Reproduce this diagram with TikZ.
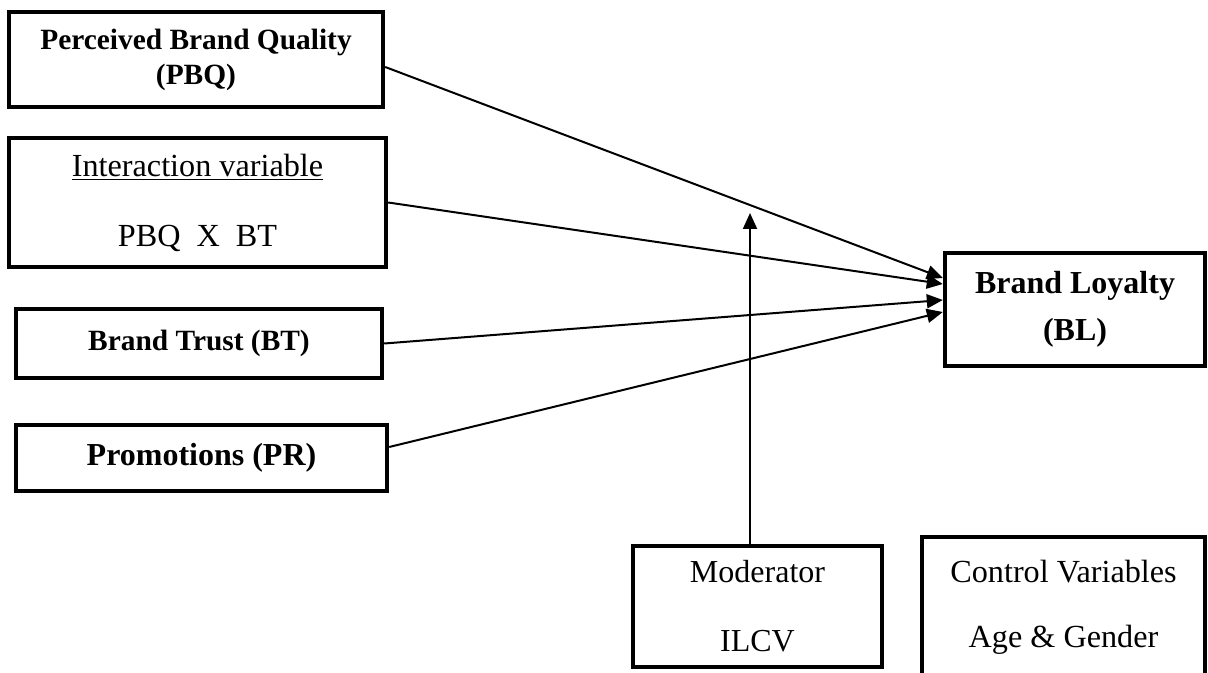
\documentclass[tikz,border=0pt]{standalone}
\usepackage{fontspec}
\setmainfont{Liberation Serif}
\usetikzlibrary{arrows.meta, positioning}
\tikzset{%
	varbox/.style={
		draw,
		rectangle,
		line width=2.2pt,
		inner sep=0pt,
		align=center
	},
	link/.style={
		line width=1pt,
		-{Triangle[length=8pt,width=7pt]}
	},
}

\begin{document}
\begin{tikzpicture}[x=0.5pt, y=-0.5pt]
	\useasboundingbox (0,0) rectangle (1208,673);

	% Draw the boxes on the left
	\node[varbox, minimum width=187pt, minimum height=47.5pt, font=\fontsize{14.7}{17.5}\selectfont\bfseries] (pbq) at (196,59.5) {Perceived Brand Quality\\(PBQ)};
	\node[varbox, minimum width=188.5pt, minimum height=64.5pt, font=\fontsize{16.1}{35}\selectfont] (ia) at (197.5,202.5) {\underline{Interaction variable}\\PBQ\ \ X\ \ BT};
	\node[varbox, minimum width=183pt, minimum height=34.5pt, font=\fontsize{14.7}{17}\selectfont\bfseries] (bt) at (199,343.5) {Brand Trust (BT)};
	\node[varbox, minimum width=185.5pt, minimum height=33pt, font=\fontsize{16}{20}\selectfont\bfseries] (pr) at (201.5,458) {Promotions (PR)};

	% Draw the dependent variable
	\node[varbox, minimum width=130pt, minimum height=56.5pt, font=\fontsize{16}{23.5}\selectfont\bfseries] (bl) at (1075,309.5) {Brand Loyalty\\(BL)};

	% Draw moderator and controls
	\node[varbox, minimum width=124.5pt, minimum height=60.5pt, font=\fontsize{16}{34.5}\selectfont] (mod) at (757.5,606.5) {Moderator\\ILCV};
	\node[varbox, minimum width=141.5pt, minimum height=70pt, font=\fontsize{16.1}{32.5}\selectfont] (ctrl) at (1063.5,607) {Control Variables\\Age \& Gender};

	% Arrows into brand loyalty
	\draw[link] ([yshift=-3.75pt]pbq.east) -- ([yshift=15.75pt]bl.west);
	\draw[link] (ia.east) -- ([yshift=12.75pt]bl.west);
	\draw[link] (bt.east) -- ([yshift=4.75pt]bl.west);
	\draw[link] ([yshift=5.5pt]pr.east) -- ([yshift=-1.25pt]bl.west);

	% Arrow from moderator
	\coordinate (hit) at (750,213);
	\draw[link] (mod.north -| hit) -- (hit);

\end{tikzpicture}
\end{document}
